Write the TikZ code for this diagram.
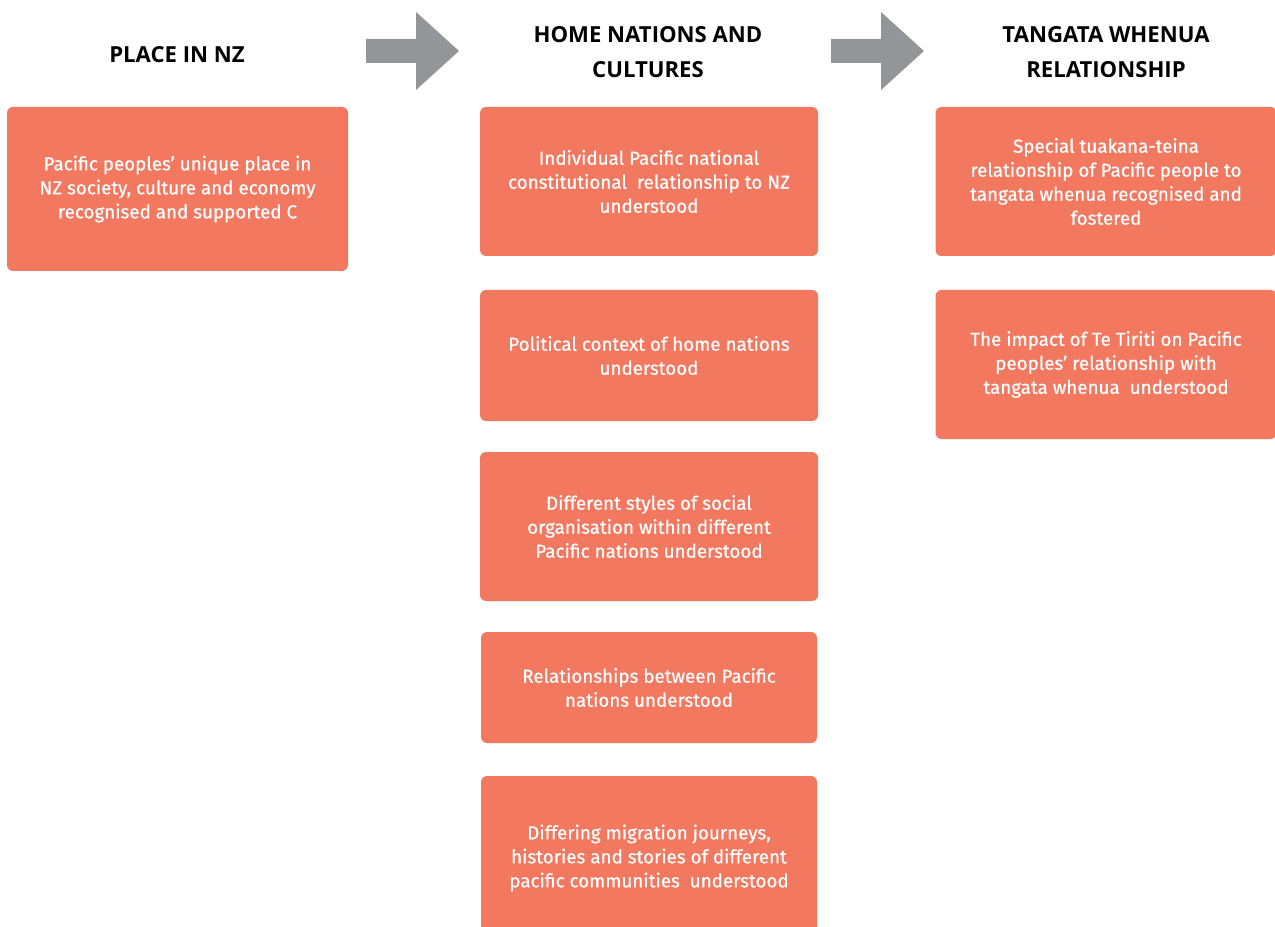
\documentclass[tikz,border=0pt]{standalone}
\usepackage{fontspec}
\setmainfont{Fira Sans}
\newfontfamily\boxfont[FakeBold=0.7]{Fira Sans}
\newfontfamily\headfont{Open Sans}
\usetikzlibrary{positioning}
\definecolor{coral}{RGB}{242,120,96}
\definecolor{arrowgrey}{RGB}{147,149,152}

\begin{document}
\begin{tikzpicture}[
    x = 0.75pt, y = -0.75pt,
    box/.style = {rectangle, rounded corners=4.5pt, fill=coral, text=white, align=center, inner sep=0pt, font=\boxfont\fontsize{14.1}{18}\selectfont},
    wide/.style = {box, minimum width=255.75pt},
    mid/.style = {box, minimum width=253.5pt},
    heading/.style = {align=center, font=\headfont\fontsize{16.6}{26.25}\selectfont\bfseries},
    bigarrow/.style = {fill=arrowgrey}
]
\useasboundingbox (0,0) rectangle (1275,927);
\clip (0,0) rectangle (1275,927);

% Headings
    \node[heading] (place) at (177,55) {PLACE IN NZ};
    \node[heading] (home) at (648,52) {HOME NATIONS AND\\CULTURES};
    \node[heading] (tangata) at (1106,52) {TANGATA WHENUA\\RELATIONSHIP};

% Arrows
    \fill[bigarrow] (366,39) -- (416,39) -- (416,12) -- (459,51) -- (416,90) -- (416,63) -- (366,63) -- cycle;
    \fill[bigarrow] (831,39) -- (881,39) -- (881,12) -- (924,51) -- (881,90) -- (881,63) -- (831,63) -- cycle;

% Place in NZ
    \node[wide, minimum height=123pt] (placeA) at (177.5,189) {Pacific peoples’ unique place in\\NZ society, culture and economy\\recognised and supported C};

% Home nations and cultures
    \node[mid, minimum height=111.75pt] (homeA) at (649,181.5) {Individual Pacific national\\constitutional\ \ relationship to NZ\\understood};
    \node[mid, minimum height=98.25pt] (homeB) at (649,355.5) {Political context of home nations\\understood};
    \node[mid, minimum height=111.75pt] (homeC) at (649,526.5) {Different styles of social\\organisation within different\\Pacific nations understood};
    \node[box, minimum width=252pt, minimum height=83.25pt] (homeD) at (649,687.5) {Relationships between Pacific\\nations understood};
    \node[box, minimum width=252pt, minimum height=123pt] (homeE) at (649,858) {Differing migration journeys,\\histories and stories of different\\pacific communities\ \ understood};

% Tangata whenua relationship
    \node[wide, minimum height=111.75pt] (tangataA) at (1106,181.5) {Special tuakana-teina\\relationship of Pacific people to\\tangata whenua recognised and\\fostered};
    \node[wide, minimum height=111.75pt] (tangataB) at (1106,364.5) {The impact of Te Tiriti on Pacific\\peoples’ relationship with\\tangata whenua\ \ understood};
\end{tikzpicture}
\end{document}
